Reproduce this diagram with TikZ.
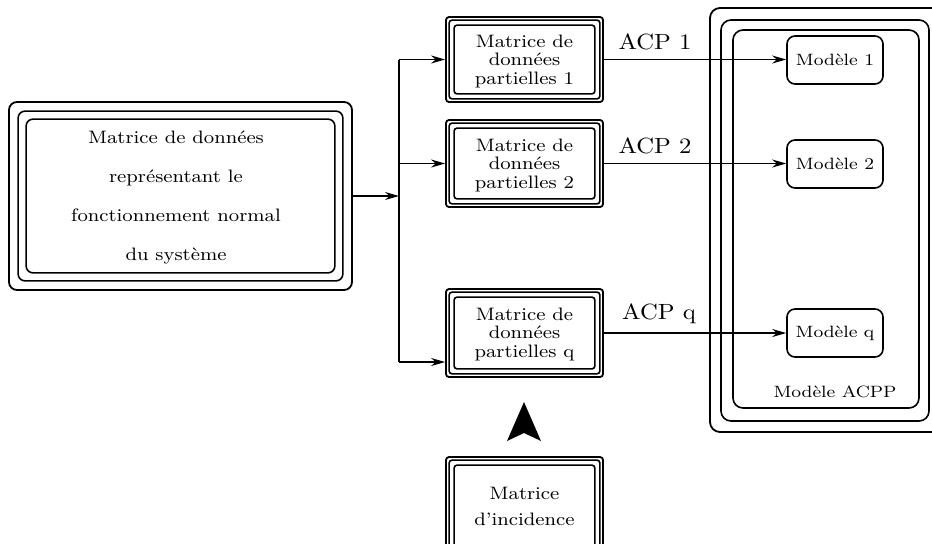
\documentclass[tikz,border=0pt]{standalone}
\usepackage{fontspec}
\setmainfont{Latin Modern Roman}[FakeStretch=1.12]
\usetikzlibrary{arrows.meta,calc}
\tikzset{
  frm/.style={draw, line width=0.8pt, rounded corners=#1},
  frm/.default=1.5pt,
  outbox/.style={draw, line width=0.9pt, rounded corners=1.5pt, inner sep=0pt,
    minimum width=78.5pt},
  modbox/.style={draw, line width=0.8pt, rounded corners=4pt, minimum width=48pt,
    minimum height=24pt, font=\fontsize{8.2}{9}\selectfont},
  boxtxt/.style={align=center, font=\fontsize{9}{9.25}\selectfont, inner sep=0pt},
  acp/.style={font=\fontsize{11}{12}\selectfont, inner sep=0pt},
  arr/.style={-{Stealth[length=7pt,width=4pt]}, line width=0.7pt},
  ln/.style={line width=0.7pt}
}
\newcommand{\innerframes}[4]{%
  \draw[frm=#4] ($(#1.north west)+(#2,#2)$) rectangle ($(#1.south east)+(-#2,-#2)$);
  \draw[frm=#4] ($(#1.north west)+(#3,#3)$) rectangle ($(#1.south east)+(-#3,-#3)$);}
\begin{document}
\begin{tikzpicture}[x=0.5pt,y=-0.5pt]
\useasboundingbox (0,0) rectangle (932,543);

% left box
\node[draw, line width=0.9pt, rounded corners=4pt, minimum width=171.5pt, minimum height=94pt]
  (L) at (180.5,196) {};
\innerframes{L}{10}{18}{3.5pt}
\node[align=center, font=\fontsize{9}{19.5}\selectfont, inner sep=0pt] (Lt) at (176,198)
  {Matrice de données\\représentant le\\fonctionnement normal\\du système};

% partial matrices
\node[outbox, minimum height=42.5pt] (B1) at (524.5,59.5) {};
\innerframes{B1}{4}{9}{1.5pt}
\node[boxtxt] (B1t) at (524.5,61) {Matrice de\\données\\partielles 1};

\node[outbox, minimum height=43.5pt] (B2) at (524.5,163.5) {};
\innerframes{B2}{4}{9}{1.5pt}
\node[boxtxt] (B2t) at (524.5,165) {Matrice de\\données\\partielles 2};

\node[outbox, minimum height=44pt] (Bq) at (524.5,333) {};
\innerframes{Bq}{4}{9}{1.5pt}
\node[boxtxt] (Bqt) at (524.5,334) {Matrice de\\données\\partielles q};

\node[outbox, minimum height=49pt] (Bi) at (524.5,506) {};
\innerframes{Bi}{4}{9}{1.5pt}
\node[align=center, font=\fontsize{9}{13}\selectfont, inner sep=0pt] (Bit) at (524.5,506)
  {Matrice\\d’incidence};

% big arrowhead
\fill (524,402) -- (541,441) -- (524,433) -- (507,441) -- cycle;

% ACPP frames
\draw[frm=5pt, line width=0.9pt] (710,8) rectangle (950,432);
\draw[frm=5pt] (721,20) rectangle (929,421);
\draw[frm=5pt] (733,30) rectangle (919,408);
\node[font=\fontsize{8.2}{9}\selectfont] (acpp) at (835,392) {Modèle ACPP};

% models
\node[modbox] (M1) at (835,60) {Modèle 1};
\node[modbox] (M2) at (835,164) {Modèle 2};
\node[modbox] (Mq) at (835,333) {Modèle q};

% connectors
\coordinate (J) at (399,196);
\coordinate (Jt) at (399,59.5);
\coordinate (J2) at (399,163.5);
\coordinate (Jq) at (399,362);
\draw[arr] (L.east) -- (J);
\draw[ln] (Jt) -- (Jq);
\draw[arr] (Jt) -- (B1.west);
\draw[arr] (J2) -- (B2.west);
\draw[arr] (Jq) -- (Jq -| Bq.west);

\draw[arr] (B1.east) -- (B1.east -| M1.west);
\draw[arr] (B2.east) -- (B2.east -| M2.west);
\draw[arr] (Bq.east) -- (Bq.east -| Mq.west);

\node[acp] (a1) at (655,42) {ACP 1};
\node[acp] (a2) at (655,146) {ACP 2};
\node[acp] (aq) at (659,314) {ACP q};
\end{tikzpicture}
\end{document}
